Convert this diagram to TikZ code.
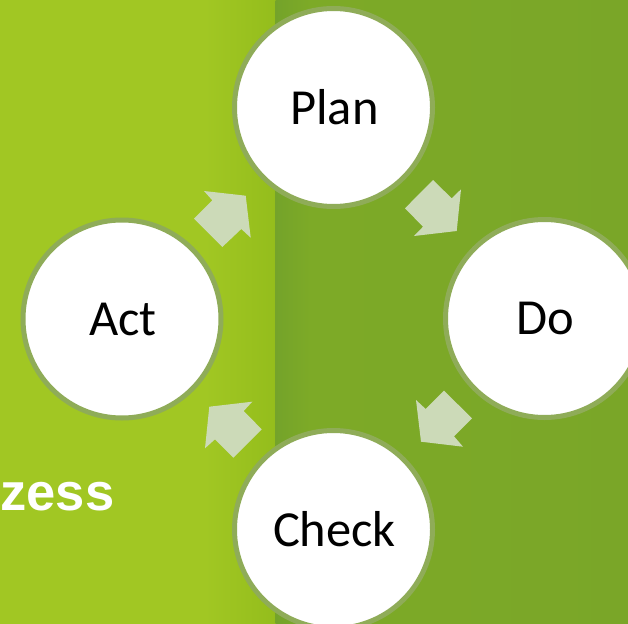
\documentclass[tikz,border=0pt]{standalone}
\usepackage{fontspec}
\setmainfont{Carlito}
\newfontfamily\headfont{Liberation Sans}
\begin{document}
\begin{tikzpicture}[x=1pt,y=-1pt,
  phase/.style={circle,draw=ringgreen,line width=5pt,fill=white,minimum size=198pt,inner sep=0pt,font=\fontsize{50.5pt}{50.5pt}\selectfont,text=black},
  blockarrow/.style={fill=arrowpale}]
\definecolor{ringgreen}{RGB}{143,172,88}
\definecolor{arrowpale}{RGB}{204,218,184}
\definecolor{lgA}{RGB}{161,199,35}
\definecolor{lgB}{RGB}{148,189,28}
\definecolor{rgA}{RGB}{116,163,42}
\definecolor{rgB}{RGB}{125,170,39}
\definecolor{rgC}{RGB}{122,166,40}
\useasboundingbox (0,0) rectangle (628,623);
\fill[lgA] (-3,-3) rectangle (276,626);
\shade[left color=lgA,right color=lgB] (205,-3) rectangle (276,626);
\shade[left color=rgA,right color=rgB] (275.5,-3) rectangle (310,626);
\shade[left color=rgB,right color=rgC] (309.5,-3) rectangle (631,626);
\node[phase] (plan) at (333.5,107.5) {\hspace*{2pt}Plan};
\node[phase] (do) at (544.5,318.5) {\hspace*{2pt}Do};
\begin{scope}
\clip (-3,-3) rectangle (631,623);
\node[phase] (check) at (333.5,529.5) {\hspace*{2pt}Check};
\end{scope}
\node[phase] (act) at (122,319) {\hspace*{2pt}Act};
\fill[blockarrow] (204,191)--(245.7,195.7)--(250.7,237.7)--(241.3,229)--(222.3,247)--(194,218.7)--(212.3,200.3)--cycle;
\fill[blockarrow] (433,180)--(405,208.3)--(423,226.7)--(414,236)--(456.7,231)--(461,189.3)--(451.7,198.3)--cycle;
\fill[blockarrow] (444,390.7)--(472,418.3)--(454,436.3)--(463,446.7)--(421,441.7)--(416,400)--(425.7,409)--cycle;
\fill[blockarrow] (252.3,401.7)--(209.3,406.7)--(205,448.3)--(215,439.3)--(233.3,457.7)--(261.7,429.3)--(243.7,411)--cycle;
\node[anchor=base east,inner sep=0pt,text=white,font=\headfont\bfseries\fontsize{52.5pt}{52.5pt}\selectfont] (title) at (114.5,510.5) {zess};
\end{tikzpicture}
\end{document}
